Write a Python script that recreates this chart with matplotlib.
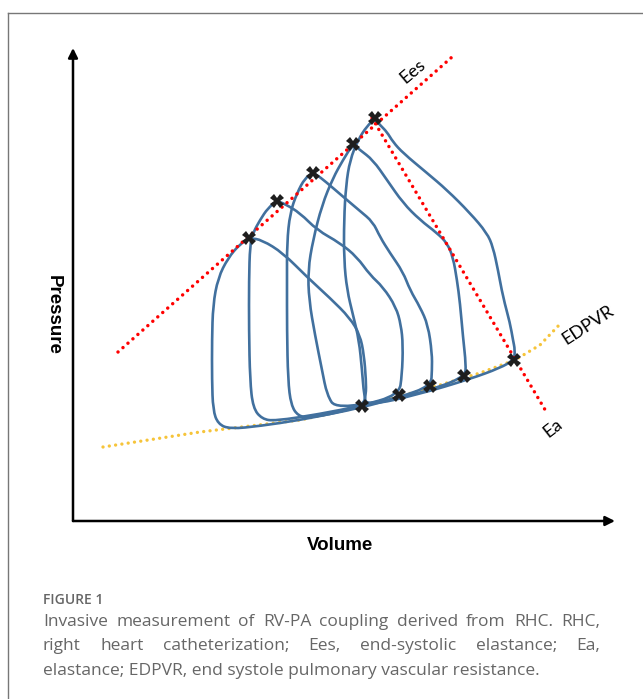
import matplotlib

matplotlib.use("Agg")
import matplotlib.pyplot as plt
import numpy as np
from matplotlib.path import Path
from matplotlib.patches import PathPatch
from matplotlib.lines import Line2D

# ---- data (arbitrary volume / pressure units read off the schematic) ----
# each loop: end-diastole -> up the contraction side -> end-systole -> down -> filling
loop_a = [(290, 116), (293, 126), (293, 141), (291, 166), (287, 186), (277, 203), (257, 223),
          (234, 244), (210, 268), (189, 281), (177, 283), (167, 277), (155, 263), (145, 243),
          (140, 216), (139, 181), (139, 141), (140, 111), (145, 97), (157, 92), (187, 95),
          (227, 101), (267, 109)]
loop_b = [(326, 126), (329, 146), (330, 176), (328, 196), (323, 214), (310, 234), (297, 246),
          (284, 264), (267, 278), (244, 291), (227, 308), (212, 317), (204, 320), (195, 313),
          (187, 301), (180, 288), (177, 276), (176, 241), (176, 191), (177, 141), (180, 113),
          (189, 102), (202, 100), (247, 107), (287, 115)]
loop_c = [(358, 135), (359, 151), (359, 168), (355, 196), (347, 214), (337, 231), (330, 249),
          (317, 268), (307, 284), (300, 299), (287, 310), (274, 321), (260, 333), (247, 344),
          (240, 348), (232, 343), (224, 328), (217, 308), (214, 278), (214, 241), (214, 191),
          (215, 141), (218, 116), (225, 105), (237, 103), (287, 113), (327, 124)]
loop_d = [(392, 145), (393, 156), (390, 184), (387, 218), (384, 241), (380, 264), (374, 278),
          (364, 288), (347, 301), (330, 318), (314, 341), (300, 361), (287, 371), (280, 377),
          (270, 361), (260, 343), (249, 316), (240, 281), (235, 251), (236, 221), (242, 186),
          (249, 151), (254, 126), (263, 112), (327, 123), (367, 134)]
loop_e = [(441, 161), (442, 171), (440, 181), (437, 198), (430, 224), (425, 251), (420, 274),
          (414, 288), (397, 308), (374, 331), (354, 348), (330, 368), (320, 379), (314, 389),
          (307, 396), (302, 402), (294, 395), (285, 381), (277, 361), (273, 336), (271, 301),
          (271, 261), (274, 231), (280, 206), (286, 181), (289, 151), (291, 126), (294, 115),
          (347, 127), (397, 142), (427, 153)]
loops = [loop_a, loop_b, loop_c, loop_d, loop_e]

esp_v = [176, 204, 240, 280, 302]
esp_p = [283, 320, 348, 377, 403]
edp_v = [289, 326, 357, 391, 441]
edp_p = [115, 126, 135, 145, 161]

ees_v = [45, 379]
ees_p = [169, 464]
ea_v = [299, 474]
ea_p = [403, 108]
edpvr_v = [30, 127, 227, 287, 357, 407, 442, 467, 489]
edpvr_p = [74, 89, 101, 114, 133, 148, 161, 176, 199]

caption_title = "FIGURE 1"
caption_lines = [
    "Invasive measurement of RV-PA coupling derived from RHC. RHC,",
    "right heart catheterization; Ees, end-systolic elastance; Ea,",
    "elastance; EDPVR, end systole pulmonary vascular resistance.",
]

LOOP_COLOR = "#41709e"
W, H = 643, 699


def smooth_closed(pts):
    # quadratic bezier through midpoints -> rounded closed outline
    pts = np.asarray(pts, dtype=float)
    n = len(pts)
    mids = (pts + np.roll(pts, -1, axis=0)) / 2
    verts = [mids[-1]]
    codes = [Path.MOVETO]
    for i in range(n):
        verts += [pts[i], mids[i]]
        codes += [Path.CURVE3, Path.CURVE3]
    return Path(verts, codes)


fig = plt.figure(figsize=(W / 100, H / 100), dpi=100)
ax = fig.add_axes([73 / W, 1 - 521 / H, 542 / W, 473 / H])
ax.set_xlim(0, 542)
ax.set_ylim(0, 473)
ax.axis("off")

# axes arrows
arrow = dict(arrowstyle="-|>", lw=1.8, color="black", mutation_scale=14,
             shrinkA=0, shrinkB=0)
ax.annotate("", xy=(0, 473), xytext=(0, 0), arrowprops=arrow, annotation_clip=False)
ax.annotate("", xy=(542, 0), xytext=(0, 0), arrowprops=arrow, annotation_clip=False)

# reference lines
dots = (0, (0.01, 1.9))
ax.plot(edpvr_v, edpvr_p, color="#f6c43a", lw=2.4, linestyle=dots,
        dash_capstyle="round", clip_on=False, zorder=2)
ax.plot(ees_v, ees_p, color="#ff0000", lw=2.5, linestyle=dots,
        dash_capstyle="round", clip_on=False, zorder=4)
ax.plot(ea_v, ea_p, color="#ff0000", lw=2.5, linestyle=dots,
        dash_capstyle="round", clip_on=False, zorder=4)

# PV loops
for lp in loops:
    ax.add_patch(PathPatch(smooth_closed(lp), facecolor="none", edgecolor=LOOP_COLOR,
                           lw=1.9, zorder=3, clip_on=False))

ax.plot(esp_v, esp_p, "X", color="#1e1e1e", ms=9.5, mew=0, zorder=5, clip_on=False)
ax.plot(edp_v, edp_p, "X", color="#1e1e1e", ms=9.5, mew=0, zorder=5, clip_on=False)

lab = dict(family="Lato", fontsize=13, color="black", ha="center", va="center",
           rotation_mode="anchor")
ax.text(340, 450, "Ees", rotation=40, **lab)
ax.text(480, 93, "Ea", rotation=38, **lab)
ax.text(515, 196, "EDPVR", rotation=33, **lab)

ax.text(-20, 206, "Pressure", rotation=270, family="Liberation Sans", weight="bold",
        fontsize=13.5, ha="center", va="center")
ax.text(267, -25, "Volume", family="Liberation Sans", weight="bold",
        fontsize=13.5, ha="center", va="center")

# frame of the figure panel (right and bottom edges run off the page)
fig.add_artist(Line2D([8 / W, 8 / W], [0, 1 - 13 / H], color="#777777", lw=1.0))
fig.add_artist(Line2D([8 / W, 1], [1 - 13 / H, 1 - 13 / H], color="#777777", lw=1.0))

# caption
cap = dict(family="Open Sans", color="#666666")
fig.text(43 / W, 1 - 600 / H, caption_title, fontsize=10, weight="semibold",
         va="center", **cap)

renderer = fig.canvas.get_renderer()
x0, x1 = 43, 600
for k, line in enumerate(caption_lines):
    y = 1 - (622 + 24.5 * k) / H
    if k == len(caption_lines) - 1:
        fig.text(x0 / W, y, line, fontsize=12.5, va="center", **cap)
        continue
    words = line.split(" ")
    texts = [fig.text(0, y, w, fontsize=12.5, va="center", **cap) for w in words]
    widths = [t.get_window_extent(renderer).width for t in texts]
    gap = (x1 - x0 - sum(widths)) / (len(words) - 1)
    x = x0
    for t, w in zip(texts, widths):
        t.set_x(x / W)
        x += w + gap

fig.savefig("out.png", dpi=100)
